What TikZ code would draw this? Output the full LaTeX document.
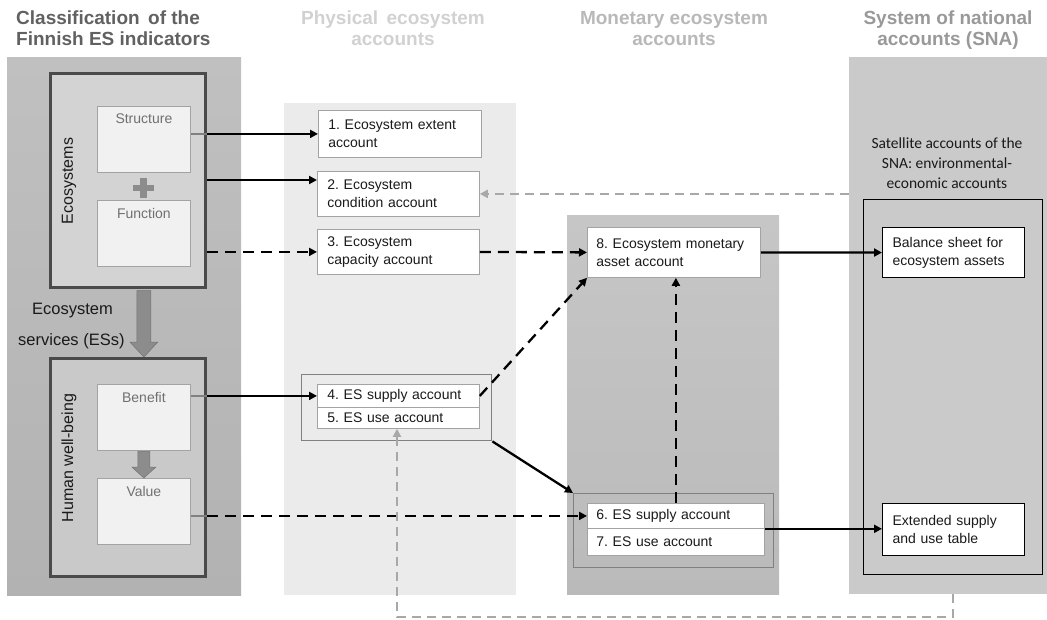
\documentclass[tikz,border=0pt]{standalone}
\usepackage{fontspec}
\setmainfont{Liberation Sans}
\newfontfamily\carl{Carlito}
\usetikzlibrary{arrows.meta,calc}
\definecolor{panelL}{HTML}{C0C0C0}
\definecolor{panelLb}{HTML}{B2B2B2}
\definecolor{physbg}{HTML}{EBEBEB}
\definecolor{monbg}{HTML}{C6C6C6}
\definecolor{monbgb}{HTML}{BABABA}
\definecolor{snabg}{HTML}{CACACA}
\definecolor{ecofill}{HTML}{D3D3D3}
\definecolor{hwbfill}{HTML}{C9C9C9}
\definecolor{ecoedge}{HTML}{4A4A4A}
\definecolor{innerfill}{HTML}{F1F1F1}
\definecolor{inneredge}{HTML}{A3A3A3}
\definecolor{innertext}{HTML}{707070}
\definecolor{bigarrow}{HTML}{8C8C8C}
\definecolor{grayarr}{HTML}{A8A8A8}
\definecolor{grpedge}{HTML}{808080}
\definecolor{txt}{HTML}{1A1A1A}
\frenchspacing
\begin{document}
\frenchspacing
\begin{tikzpicture}[x=1pt,y=-1pt,
  panel/.style={anchor=north west, inner sep=0pt, draw=none},
  acc/.style={anchor=north west, draw=inneredge, line width=0.8pt, fill=white,
    align=left, inner xsep=10pt, inner ysep=0pt, text=txt,
    font=\fontsize{14}{18}\selectfont},
  sacc/.style={acc, draw=black, line width=1.1pt},
  grp/.style={anchor=north west, draw=grpedge, line width=1.4pt, inner sep=0pt},
  bigbox/.style={anchor=north west, draw=ecoedge, line width=3pt, inner sep=0pt},
  ibox/.style={anchor=north west, draw=inneredge, line width=0.8pt, fill=innerfill,
    inner sep=0pt, minimum width=93pt, minimum height=66pt},
  ilabel/.style={anchor=north, inner sep=0pt, text=innertext,
    font=\fontsize{14}{17}\selectfont},
  title/.style={anchor=north, inner sep=0pt, align=center,
    font=\fontsize{19}{21}\selectfont\bfseries},
  arr/.style={line width=2.3pt, draw=black, -{Triangle[length=8pt,width=8pt]}},
  darr/.style={arr, dash pattern=on 11pt off 7pt},
  gline/.style={line width=2.3pt, draw=grpedge},
  gdarr/.style={line width=2.8pt, draw=grayarr, dash pattern=on 9pt off 6pt,
    -{Triangle[length=8pt,width=8pt]}}
]
\useasboundingbox (0,0) rectangle (1047,619);

% ---------- panels ----------
\shade[top color=panelL, bottom color=panelLb] (7,57) rectangle (241,595);
\node[panel, fill=physbg, minimum width=232pt, minimum height=492pt] (phys) at (284,103) {};
\shade[top color=monbg, bottom color=monbgb] (567,215) rectangle (779,594);
\node[panel, minimum width=212pt, minimum height=379pt] (mon) at (567,215) {};
\node[panel, fill=snabg, minimum width=198pt, minimum height=537pt] (sna) at (849,57) {};
\node[anchor=north west, draw=black, line width=1.1pt, inner sep=0pt,
  minimum width=179pt, minimum height=375pt] (sat) at (863,199) {};

% ---------- titles ----------
\node[anchor=north west, inner sep=0pt, align=left, text=black!62,
  font=\fontsize{19}{21}\selectfont\bfseries] (t1) at (16,11) {Classification\, of the\\Finnish ES indicators};
\node[title, text=black!18] (t2) at (393,11) {Physical\, ecosystem\\accounts};
\node[title, text=black!28] (t3) at (674,11) {Monetary ecosystem\\accounts};
\node[title, text=black!40] (t4) at (948,11) {System of national\\accounts (SNA)};

% ---------- left column ----------
\node[bigbox, fill=ecofill, minimum width=155pt, minimum height=214pt] (eco) at (49,72) {};
\node[bigbox, fill=hwbfill, minimum width=155pt, minimum height=218pt] (hwb) at (49,357) {};
\node[ibox] (str) at (97,106) {};
\node[ibox] (fun) at (97,200) {};
\node[ibox] (ben) at (97,384) {};
\node[ibox] (val) at (97,478) {};
\node[ilabel] (strl) at ($(str.north)+(0,8)$) {Structure};
\node[ilabel] (funl) at ($(fun.north)+(0,8)$) {Function};
\node[ilabel] (benl) at ($(ben.north)+(0,8)$) {Benefit};
\node[ilabel] (vall) at ($(val.north)+(0,8)$) {Value};
\node[rotate=90, inner sep=0pt, text=txt, font=\fontsize{16}{18}\selectfont] (ecol) at (69,181) {Ecosystems};
\node[rotate=90, inner sep=0pt, text=txt, font=\fontsize{16}{18}\selectfont] (hwbl) at (69,458) {Human well-being};

% plus sign
\fill[bigarrow] ($(str.south)+(-4,5)$) rectangle ($(str.south)+(3,25)$);
\fill[bigarrow] ($(str.south)+(-11,12)$) rectangle ($(str.south)+(10,18)$);

% big arrow eco -> hwb
\filldraw[fill=bigarrow, draw=black!55, line width=0.5pt]
  ($(str.south |- eco.south)+(-7,1.5)$) -- ($(str.south |- eco.south)+(7,1.5)$)
  -- ($(str.south |- hwb.north)+(7,-15)$) -- ($(str.south |- hwb.north)+(14,-15)$)
  -- ($(str.south |- hwb.north)+(0,0)$) -- ($(str.south |- hwb.north)+(-14,-15)$)
  -- ($(str.south |- hwb.north)+(-7,-15)$) -- cycle;
% small arrow benefit -> value
\filldraw[fill=bigarrow, draw=black!55, line width=0.5pt]
  ($(ben.south)+(-6,0.5)$) -- ($(ben.south)+(6,0.5)$)
  -- ($(val.north)+(6,-11)$) -- ($(val.north)+(12,-11)$)
  -- ($(val.north)+(0,0)$) -- ($(val.north)+(-12,-11)$)
  -- ($(val.north)+(-6,-11)$) -- cycle;

\node[anchor=base west, inner sep=0pt, text=txt, font=\fontsize{16.5}{19}\selectfont] (es1) at (32,314) {Ecosystem};
\node[anchor=base west, inner sep=0pt, text=txt, font=\fontsize{16.5}{19}\selectfont] (es2) at (18,345) {services (ESs)};

% ---------- physical accounts ----------
\node[acc, text width=143pt, minimum height=47pt] (b1) at (318,110) {1. Ecosystem extent\\account};
\node[acc, text width=142pt, minimum height=45pt] (b2) at (317,171) {2. Ecosystem\\condition account};
\node[acc, text width=142pt, minimum height=45pt] (b3) at (317,229) {3. Ecosystem\\capacity account};
\node[grp, minimum width=190pt, minimum height=66pt] (g45) at (301,374) {};
\node[acc, text width=142pt, minimum height=23pt] (b4) at (317,384) {4. ES supply account};
\node[acc, text width=142pt, minimum height=21pt] (b5) at (317,407) {5. ES use account};

% ---------- monetary accounts ----------
\node[acc, inner xsep=9pt, text width=155pt, minimum height=50pt] (b8) at (587,227) {8. Ecosystem monetary\\asset account};
\node[grp, minimum width=200pt, minimum height=74pt] (g67) at (573,493) {};
\node[acc, inner xsep=9pt, text width=159pt, minimum height=25pt] (b6) at (587,503) {6. ES supply account};
\node[acc, inner xsep=9pt, text width=159pt, minimum height=27pt] (b7) at (587,528) {7. ES use account};

% ---------- SNA ----------
\node[anchor=north, inner sep=0pt, align=center, text=txt, font=\carl\fontsize{15.5}{20}\selectfont] (satl) at (947,138) {Satellite accounts of the\\SNA: environmental-\\economic accounts};
\node[sacc, text width=122pt, minimum height=50pt] (bal) at (882,227) {Balance sheet for\\ecosystem assets};
\node[sacc, text width=122pt, minimum height=52pt] (ext) at (882,503) {Extended supply\\and use table};

% ---------- connectors ----------
\coordinate (c2) at (0,180);
\coordinate (lpR) at (953,617);
\coordinate (lpL) at (397,617);

\draw[gline] (str.east |- b1.west) -- (eco.east |- b1.west);
\draw[arr] (eco.east |- b1.west) -- (b1.west);
\draw[arr] (eco.east |- c2) -- (b2.west |- c2);
\draw[darr] (eco.east |- b3.west) -- (b3.west);
\draw[gline] (ben.east |- b4.west) -- (hwb.east |- b4.west);
\draw[arr] (hwb.east |- b4.west) -- (b4.west);
\draw[gline] (val.east |- b6.west) -- (hwb.east |- b6.west);
\draw[darr] (hwb.east |- b6.west) -- (b6.west);

\draw[darr] (b3.east) -- (b8.west);
\draw[darr] (b4.east) -- (b8.south west);
\draw[arr] (g45.south east) -- (g67.north west);
\draw[darr] (b6.north) -- (b6.north |- b8.south);
\draw[arr] (b8.east) -- (bal.west);
\draw[arr] (b6.south east) -- (ext.west |- b6.south east);

\draw[gdarr] (sna.west |- b2.east) -- (b2.east);
\draw[gdarr] (sna.south -| lpR) -- (lpR) -- (lpL) -- (lpL |- b5.south);
\end{tikzpicture}
\end{document}
